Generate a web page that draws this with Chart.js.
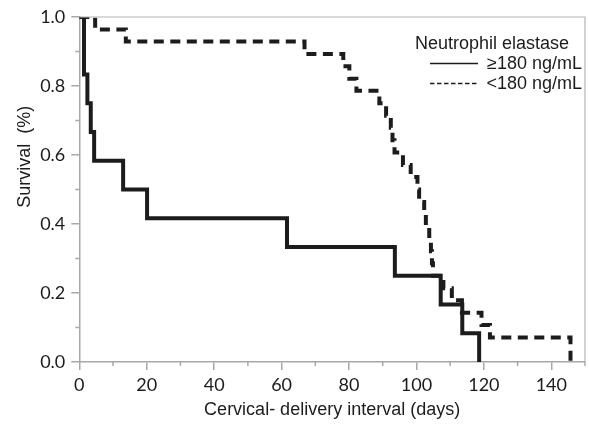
<!DOCTYPE html>
<html><head><meta charset="utf-8">
<script src="https://cdn.jsdelivr.net/npm/chart.js@4"></script>
<style>html,body{margin:0;padding:0;background:#fff}#wrap{width:589px;height:426px}</style>
</head><body><div id="wrap"><canvas id="c" width="589" height="426"></canvas></div>
<script>
// ---- data ----
const highDays     = [0, 1.4, 2.4, 3.4, 4.4, 13, 20.1, 61.6, 93.6, 107.2, 113.6, 118.6];
const highSurvival = [1, 0.833, 0.75, 0.667, 0.583, 0.5, 0.417, 0.333, 0.25, 0.167, 0.083, 0];
const lowDays      = [0, 4.7, 13.8, 66.8, 78.3, 80.1, 82.2, 89, 91, 92.4, 92.9, 93.5, 96, 98.3, 100.3, 100.8, 102.3, 102.8, 103.8, 104.3, 104.6, 104.9, 108, 110.5, 113.5, 119.3, 121.8, 145.7];
const lowSurvival  = [1, 0.964, 0.929, 0.893, 0.857, 0.821, 0.786, 0.75, 0.714, 0.679, 0.643, 0.607, 0.571, 0.536, 0.5, 0.464, 0.429, 0.393, 0.357, 0.321, 0.286, 0.25, 0.214, 0.179, 0.143, 0.107, 0.071, 0];
const xTickLabels  = [0, 20, 40, 60, 80, 100, 120, 140];
const yTickLabels  = [0.0, 0.2, 0.4, 0.6, 0.8, 1.0];
const seriesLabels = ['\u2265180 ng/mL', '<180 ng/mL'];
const legendTitle  = 'Neutrophil elastase';
const xTitle       = 'Cervical- delivery interval (days)';
const yTitle       = 'Survival  (%)';

const toPts = (xs, ys) => xs.map((x, i) => ({x, y: ys[i]}));
const INK = '#1c1c1c';
const AXIS = '#a8a8a8';
const isMajorX = v => xTickLabels.some(t => Math.abs(t - v) < 1e-6);
const isMajorY = v => yTickLabels.some(t => Math.abs(t - v) < 1e-6);

const extras = {
  id: 'extras',
  afterDraw(chart) {
    const {ctx, chartArea: a, scales: {x, y}} = chart;
    ctx.save();
    // frame top & right
    ctx.strokeStyle = '#b4b4b4'; ctx.lineWidth = 1.2;
    ctx.beginPath();
    ctx.moveTo(a.left, a.top); ctx.lineTo(a.right, a.top); ctx.lineTo(a.right, a.bottom);
    ctx.stroke();
    // minor ticks
    ctx.strokeStyle = AXIS; ctx.lineWidth = 1.5;
    ctx.beginPath();
    x.ticks.forEach(t => { if (!isMajorX(t.value)) { const px = x.getPixelForValue(t.value); ctx.moveTo(px, a.bottom); ctx.lineTo(px, a.bottom + 4); } });
    y.ticks.forEach(t => { if (!isMajorY(t.value)) { const py = y.getPixelForValue(t.value); ctx.moveTo(a.left, py); ctx.lineTo(a.left - 4, py); } });
    ctx.stroke();
    // axis titles
    ctx.fillStyle = INK;
    ctx.font = '18px "Liberation Sans", Arial, sans-serif';
    ctx.textAlign = 'center'; ctx.textBaseline = 'middle';
    ctx.fillText(xTitle, (a.left + a.right) / 2, 410);
    ctx.save();
    ctx.translate(25, y.getPixelForValue(0.595));
    ctx.rotate(-Math.PI / 2);
    ctx.fillText(yTitle, 0, 0);
    ctx.restore();
    // legend
    ctx.textAlign = 'left';
    ctx.fillText(legendTitle, 415, 44);
    ctx.textAlign = 'right';
    ctx.fillText(seriesLabels[0], 582, 64);
    ctx.fillText(seriesLabels[1], 582, 84);
    ctx.strokeStyle = INK; ctx.lineWidth = 1.3;
    ctx.beginPath(); ctx.moveTo(430, 63.5); ctx.lineTo(478, 63.5); ctx.stroke();
    ctx.setLineDash([4.5, 2.5]);
    ctx.beginPath(); ctx.moveTo(430, 83.5); ctx.lineTo(478, 83.5); ctx.stroke();
    ctx.restore();
  }
};

new Chart(document.getElementById('c'), {
  type: 'scatter',
  data: {
    datasets: [
      {label: seriesLabels[0], data: toPts(highDays, highSurvival), showLine: true, stepped: 'before',
       borderColor: INK, borderWidth: 4, pointRadius: 0, fill: false},
      {label: seriesLabels[1], data: toPts(lowDays, lowSurvival), showLine: true, stepped: 'before',
       borderColor: INK, borderWidth: 4, borderDash: [10, 6.5], pointRadius: 0, fill: false}
    ]
  },
  options: {
    responsive: false, animation: false, devicePixelRatio: 1,
    layout: {padding: {top: 17, right: 2.5, left: 0, bottom: 0}},
    plugins: {legend: {display: false}, tooltip: {enabled: false}},
    scales: {
      x: {
        type: 'linear', min: 0, max: 150,
        afterFit: s => { s.height = 64; },
        border: {color: AXIS, width: 1.5},
        grid: {drawOnChartArea: false, drawTicks: true, tickLength: 8, lineWidth: 1.5,
               tickColor: c => isMajorX(c.tick.value) ? AXIS : 'rgba(0,0,0,0)'},
        ticks: {stepSize: 10, includeBounds: false, autoSkip: false, maxRotation: 0, padding: 4,
                color: INK, font: {family: 'Lato', size: 18},
                callback: v => isMajorX(v) ? String(v) : ''}
      },
      y: {
        min: 0, max: 1,
        afterFit: s => { s.width = 79.3; },
        border: {color: AXIS, width: 1.5},
        grid: {drawOnChartArea: false, drawTicks: true, tickLength: 8, lineWidth: 1.5,
               tickColor: c => isMajorY(c.tick.value) ? AXIS : 'rgba(0,0,0,0)'},
        ticks: {stepSize: 0.1, autoSkip: false, padding: 6,
                color: INK, font: {family: 'Lato', size: 18},
                callback: v => isMajorY(v) ? v.toFixed(1) : ''}
      }
    }
  },
  plugins: [extras]
});
</script></body></html>
